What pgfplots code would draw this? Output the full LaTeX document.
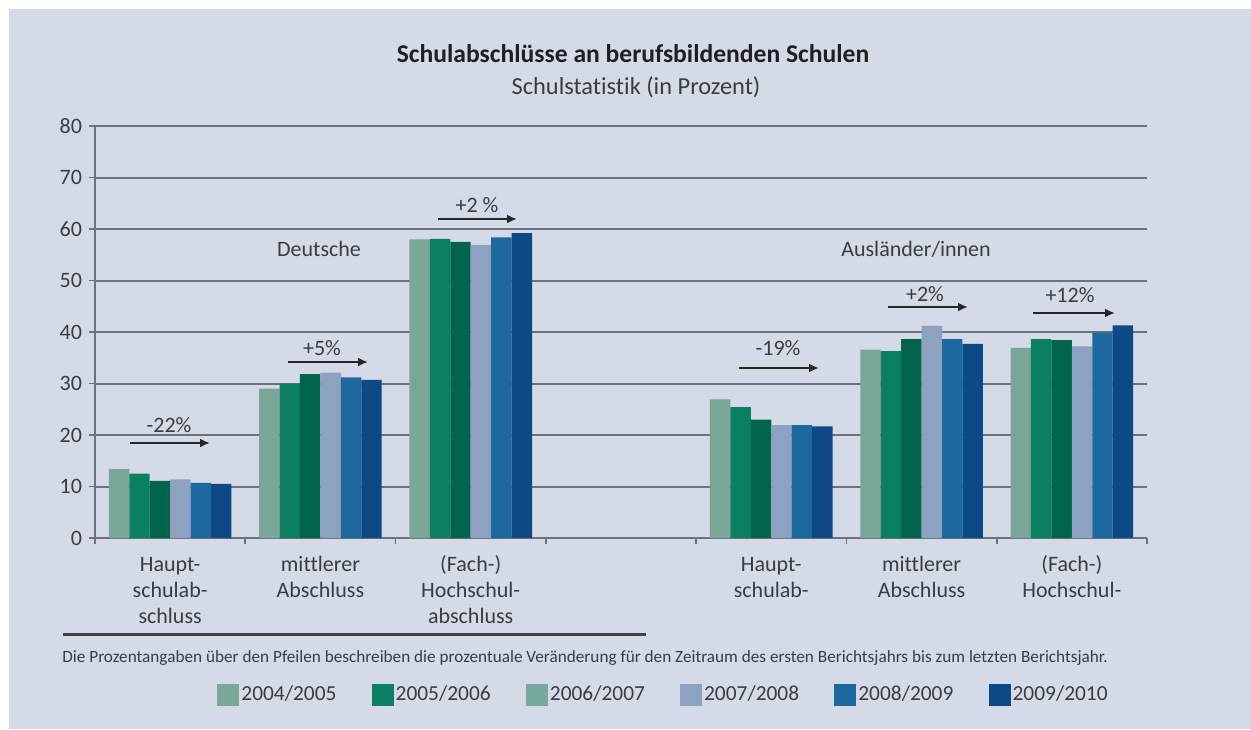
\documentclass[border=0pt]{standalone}
\usepackage{pgfplots}
\pgfplotsset{compat=1.18}
\usepackage{fontspec}
\setmainfont{Carlito}[Ligatures={NoCommon}]
\usetikzlibrary{arrows.meta}
\definecolor{bg}{RGB}{212,219,231}
\definecolor{gridc}{RGB}{108,113,123}
\definecolor{txt}{RGB}{58,60,68}
\definecolor{ttl}{RGB}{30,30,36}
\definecolor{ca}{RGB}{122,166,152}
\definecolor{cb}{RGB}{10,127,98}
\definecolor{cc}{RGB}{0,101,74}
\definecolor{cd}{RGB}{141,162,192}
\definecolor{ce}{RGB}{30,104,160}
\definecolor{cf}{RGB}{13,74,133}
\definecolor{lc}{RGB}{118,168,158}
\begin{document}
\begin{tikzpicture}
\begin{scope}[shift={(0pt,364.5pt)}, x=0.5pt, y=-0.5pt]
\fill[white] (0,0) rectangle (1251,729);
\fill[bg] (9,9) rectangle (1251,729);
\end{scope}
\begin{axis}[
  at={(47.5pt,95.5pt)}, anchor=south west,
  scale only axis, width=526pt, height=206pt,
  xmin=-0.5, xmax=6.5, ymin=0, ymax=80,
  axis lines*=left,
  axis line style={gridc, line width=1pt, -},
  ytick={0,10,...,80},
  ymajorgrids, grid style={gridc, line width=1pt},
  xtick={-0.5,0.5,1.5,2.5,3.5,4.5,5.5,6.5},
  xticklabels={},
  extra x ticks={0,1,2,4,5,6},
  extra x tick labels={{\strut Haupt-\\schulab-\\schluss},{\strut mittlerer\\Abschluss},{\strut (Fach-)\\Hochschul-\\abschluss},{\strut Haupt-\\schulab-},{\strut mittlerer\\Abschluss},{\strut (Fach-)\\Hochschul-}},
  extra x tick style={major tick length=0pt},
  tick align=outside, major tick length=3pt,
  tick style={gridc, line width=0.8pt},
  xticklabel style={align=center, font=\fontsize{11}{13}\selectfont, text=txt, yshift=-4pt},
  yticklabel style={font=\fontsize{11}{13}\selectfont, text=txt},
  /pgf/number format/assume math mode=true,
  legend columns=6,
  legend style={at={(0.116,-0.381)}, anchor=west, draw=none, fill=none, inner sep=0pt,
    font=\fontsize{10.7}{12}\selectfont, text=txt,
    nodes={inner xsep=1pt, inner ysep=0pt},
    /tikz/every even column/.append style={column sep=16.6pt}},
  legend image code/.code={\fill[#1, draw=none] (0pt,-5.5pt) rectangle (11pt,5.5pt);},
]
\addplot[ybar, bar width=0.136, bar shift=-0.34, fill=ca, draw=none, forget plot]
  coordinates {(0,13.4) (1,29.0) (2,58.0) (4,26.9) (5,36.6) (6,36.9)};
\addplot[ybar, bar width=0.136, bar shift=-0.204, fill=cb, draw=none, forget plot]
  coordinates {(0,12.5) (1,30.0) (2,58.1) (4,25.4) (5,36.3) (6,38.6)};
\addplot[ybar, bar width=0.136, bar shift=-0.068, fill=cc, draw=none, forget plot]
  coordinates {(0,11.1) (1,31.8) (2,57.5) (4,23.0) (5,38.6) (6,38.4)};
\addplot[ybar, bar width=0.136, bar shift=0.068, fill=cd, draw=none, forget plot]
  coordinates {(0,11.4) (1,32.1) (2,56.9) (4,21.9) (5,41.2) (6,37.2)};
\addplot[ybar, bar width=0.136, bar shift=0.204, fill=ce, draw=none, forget plot]
  coordinates {(0,10.7) (1,31.2) (2,58.4) (4,21.9) (5,38.6) (6,39.9)};
\addplot[ybar, bar width=0.136, bar shift=0.34, fill=cf, draw=none, forget plot]
  coordinates {(0,10.5) (1,30.7) (2,59.2) (4,21.7) (5,37.7) (6,41.3)};
\addlegendimage{fill=ca}\addlegendentry{2004/2005}
\addlegendimage{fill=cb}\addlegendentry{2005/2006}
\addlegendimage{fill=lc}\addlegendentry{2006/2007}
\addlegendimage{fill=cd}\addlegendentry{2007/2008}
\addlegendimage{fill=ce}\addlegendentry{2008/2009}
\addlegendimage{fill=cf}\addlegendentry{2009/2010}
\end{axis}
\begin{scope}[shift={(0pt,364.5pt)}, x=0.5pt, y=-0.5pt]
\node[anchor=base, font=\bfseries\fontsize{12.8}{15}\selectfont, text=ttl] at (633,63) {Schulabschlüsse an berufsbildenden Schulen};
\node[anchor=base, font=\fontsize{12.2}{15}\selectfont, text=txt] at (636,95) {Schulstatistik (in Prozent)};
\node[anchor=base, font=\fontsize{11}{13}\selectfont, text=txt] at (319,257) {Deutsche};
\node[anchor=base, font=\fontsize{11}{13}\selectfont, text=txt] at (916,257) {Ausländer/innen};
\tikzset{ann/.style={anchor=base, font=\fontsize{11}{13}\selectfont, text=txt},
  arr/.style={line width=1.2pt, black!85, -{Latex[length=5pt,width=4.5pt]}}}
\node[ann] at (169,432) {-22\%};
\draw[arr] (130,443) -- (210,443);
\node[ann] at (322,355) {+5\%};
\draw[arr] (288,362) -- (368,362);
\node[ann] at (477,213) {+2 \%};
\draw[arr] (438,219) -- (517,219);
\node[ann] at (778,356) {-19\%};
\draw[arr] (739,368) -- (819,368);
\node[ann] at (925,301) {+2\%};
\draw[arr] (888,307) -- (968,307);
\node[ann] at (1070,303) {+12\%};
\draw[arr] (1033,313) -- (1115,313);
\draw[line width=1.5pt, black!75] (63,634) -- (646,634);
\node[anchor=base west, inner sep=0pt, font=\fontsize{8.6}{10}\selectfont, text=txt] at (62,662) {Die Prozentangaben über den Pfeilen beschreiben die prozentuale Veränderung für den Zeitraum des ersten Berichtsjahrs bis zum letzten Berichtsjahr.};
\end{scope}
\end{tikzpicture}
\end{document}
